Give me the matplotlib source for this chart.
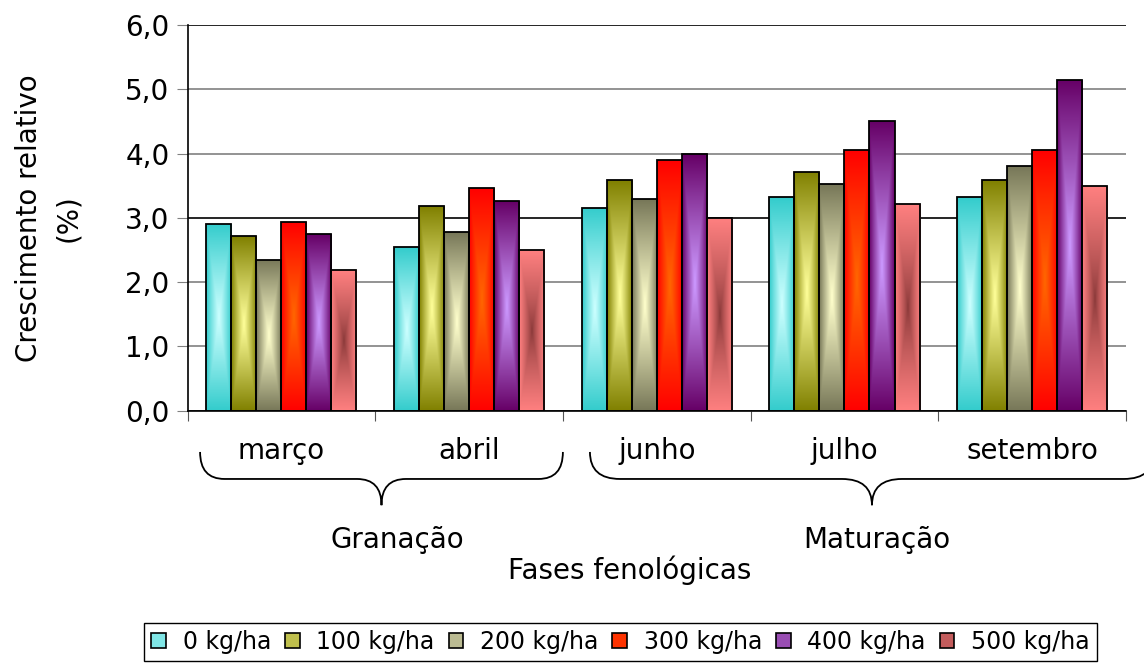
import numpy as np
import matplotlib.pyplot as plt
from matplotlib.colors import to_rgb
from matplotlib.path import Path
from matplotlib.patches import PathPatch, Patch
from matplotlib.transforms import blended_transform_factory
from matplotlib.ticker import FuncFormatter

meses = ['março', 'abril', 'junho', 'julho', 'setembro']
doses = ['0 kg/ha', '100 kg/ha', '200 kg/ha', '300 kg/ha', '400 kg/ha', '500 kg/ha']

d0 = [2.91, 2.54, 3.16, 3.32, 3.32]
d100 = [2.72, 3.18, 3.59, 3.72, 3.59]
d200 = [2.35, 2.78, 3.29, 3.53, 3.81]
d300 = [2.94, 3.46, 3.90, 4.06, 4.06]
d400 = [2.75, 3.26, 3.99, 4.50, 5.15]
d500 = [2.19, 2.50, 3.00, 3.22, 3.50]
series = [d0, d100, d200, d300, d400, d500]

fases = ['Granação', 'Maturação']

# cor da borda / cor do centro do gradiente de cada serie
cor_borda = ['#33CCCC', '#808000', '#777758', '#FF0000', '#660066', '#FF8080']
cor_centro = ['#CCFFFF', '#FFFF99', '#FFFFCC', '#FF6600', '#CC99FF', '#883838']
expoente = [1.1, 1.1, 1.1, 1.1, 1.1, 0.8]

plt.rcParams['font.family'] = ['DejaVu Sans']

W, H = 1144, 666
fig = plt.figure(figsize=(W / 100, H / 100), dpi=100)
ax = fig.add_axes([187.5 / W, 1 - 410.7 / H, (1126 - 187.5) / W, 385.7 / H])


def gradiente(ax, barra, borda, centro, p):
    x0, y0 = barra.get_x(), barra.get_y()
    w, h = barra.get_width(), barra.get_height()
    u = np.abs(np.linspace(-1, 1, 40))[None, :]
    v = np.abs(np.linspace(-1, 1, 240))[:, None]
    t = np.maximum(u, v) ** p
    c0 = np.array(to_rgb(centro))
    c1 = np.array(to_rgb(borda))
    img = c0 + (c1 - c0) * t[..., None]
    im = ax.imshow(img, extent=(x0, x0 + w, y0, y0 + h), origin='lower',
                   aspect='auto', interpolation='bilinear', zorder=2)
    im.set_clip_path(barra)


x = np.arange(len(meses))
largura = 0.8 / len(series)
for k, vals in enumerate(series):
    barras = ax.bar(x + (k - 2.5) * largura, vals, largura, facecolor='none',
                    edgecolor='black', linewidth=1.3, zorder=3)
    for b in barras:
        gradiente(ax, b, cor_borda[k], cor_centro[k], expoente[k])

ax.set_xlim(-0.5, len(meses) - 0.5)
ax.set_ylim(0, 6)

# eixo y
ax.set_yticks(np.arange(0, 7, 1))
ax.yaxis.set_major_formatter(FuncFormatter(lambda v, p: f'{v:.1f}'.replace('.', ',')))
ax.tick_params(axis='y', length=8, pad=5, labelsize=20, direction='out', color='#808080')
ax.yaxis.grid(True, color='#808080', linewidth=1.2)
ax.set_axisbelow(True)
for tk, v in zip(ax.yaxis.get_major_ticks(), np.arange(0, 7, 1)):
    if v in (0, 3, 6):
        tk.gridline.set_color('black')
        tk.tick1line.set_color('black')

# eixo x: marcas nos limites, rotulos no centro
ax.set_xticks(np.arange(-0.5, len(meses), 1))
ax.set_xticklabels([])
ax.set_xticks(x, minor=True)
ax.set_xticklabels(meses, minor=True)
ax.tick_params(axis='x', which='major', length=7, direction='out', color='#555555')
ax.tick_params(axis='x', which='minor', length=0, pad=19, labelsize=20)

for s in ['top', 'right']:
    ax.spines[s].set_visible(False)
for s in ['left', 'bottom']:
    ax.spines[s].set_color('black')
    ax.spines[s].set_linewidth(1.2)

ax.set_ylabel('Crescimento relativo\n(%)', fontsize=20, linespacing=1.5,
              va='center', multialignment='center')
ax.yaxis.set_label_coords(-0.148, 0.5)
ax.set_xlabel('Fases fenológicas', fontsize=20, va='center')
ax.xaxis.set_label_coords(0.4715, -0.413)

# chaves das fases
trans = blended_transform_factory(ax.transData, ax.transAxes)


def chave(ax, xa, xb, r, yt=-0.107, yb=-0.177, yp=-0.245):
    xm = (xa + xb) / 2
    verts = [(xa, yt), (xa, yb), (xa + r, yb), (xm - r, yb), (xm, yb), (xm, yp),
             (xm, yp), (xm, yb), (xm + r, yb), (xb - r, yb), (xb, yb), (xb, yt)]
    codes = [Path.MOVETO, Path.CURVE3, Path.CURVE3, Path.LINETO, Path.CURVE3, Path.CURVE3,
             Path.MOVETO, Path.CURVE3, Path.CURVE3, Path.LINETO, Path.CURVE3, Path.CURVE3]
    ax.add_patch(PathPatch(Path(verts, codes), fill=False, edgecolor='black',
                           linewidth=1.3, transform=trans, clip_on=False))


chave(ax, -0.433, 1.5, 0.13)
chave(ax, 1.644, 4.649, 0.16)
for nome, xp in zip(fases, [0.62, 3.17]):
    ax.text(xp, -0.336, nome, transform=trans, ha='center', va='center', fontsize=20)

# legenda
handles = [Patch(facecolor=np.mean([to_rgb(a), to_rgb(b)], axis=0), edgecolor='black', linewidth=1.2)
           for a, b in zip(cor_borda, cor_centro)]
leg = fig.legend(handles, doses, loc='upper center', bbox_to_anchor=(620.5 / W, 1 - 622.7 / H),
                 ncol=6, fontsize=17, frameon=True, fancybox=False, edgecolor='black',
                 framealpha=1, borderpad=0.3, handlelength=0.62, handleheight=0.62,
                 handletextpad=0.7, columnspacing=0.6, borderaxespad=0)
leg.get_frame().set_linewidth(1)

fig.savefig('out.png', dpi=100)
